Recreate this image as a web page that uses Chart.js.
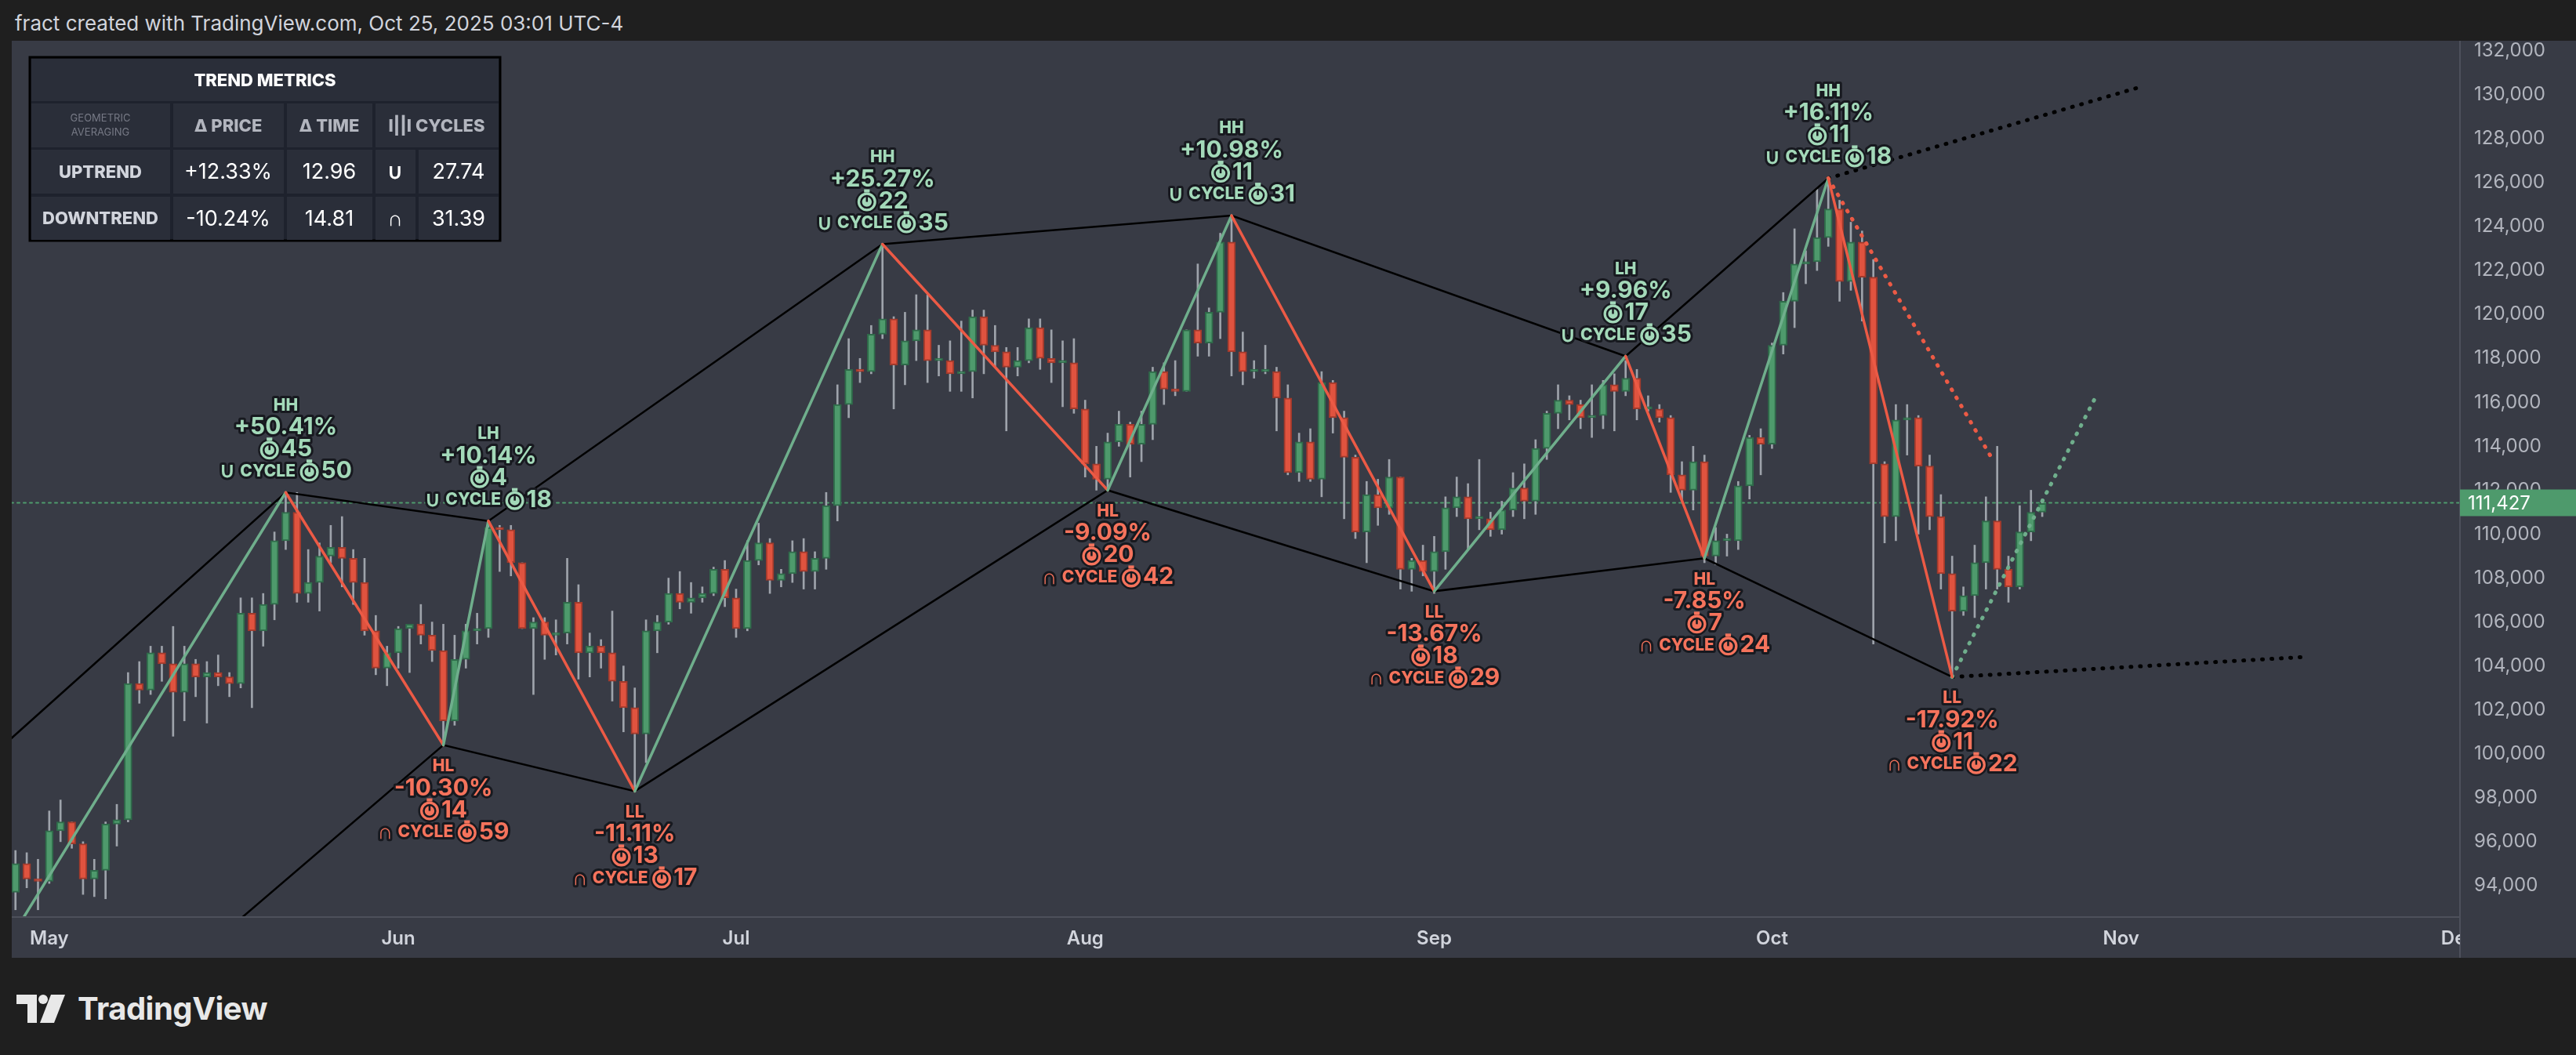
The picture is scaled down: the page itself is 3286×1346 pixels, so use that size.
<!DOCTYPE html>
<html>
<head>
<meta charset="utf-8">
<script src="https://cdn.jsdelivr.net/npm/chart.js@4.4.1/dist/chart.umd.min.js"></script>
<style>
  html, body { margin: 0; padding: 0; background: #1f1f1f; width: 3286px; height: 1346px; overflow: hidden; font-family: Inter, "Noto Sans", sans-serif; }
  #head { position: absolute; left: 19px; top: 14px; color: #d1d4dc; font-size: 26px; }
  #wrap { position: absolute; left: 0; top: 52px; width: 3286px; height: 1170px; }
  #foot { position: absolute; left: 21px; top: 1262px; display: flex; align-items: center; color: #e8e8e8; font-size: 40px; font-weight: 700; letter-spacing: -0.5px; }
  #foot svg { margin-right: 14px; }
</style>
</head>
<body>
<div id="head">fract created with TradingView.com, Oct 25, 2025 03:01 UTC-4</div>
<div id="wrap"><canvas id="chart" width="3286" height="1170"></canvas></div>
<div id="foot">
  <svg width="64" height="36" viewBox="0 0 64 36"><path d="M0 0h26v36h-12V12H0z" fill="#e8e8e8"/><circle cx="34" cy="6" r="6" fill="#e8e8e8"/><path d="M44 0h18L48 36H30z" fill="#e8e8e8"/></svg>
  <span>TradingView</span>
</div>
<script>
// daily BTCUSD candles, values in thousands, Apr 28 -> Oct 25 (day 0 = May 1)
const startDay = -3;
const firstOpen = 93.7;
const closes = [
  95.0, 94.3, 94.2,
  96.5, 96.9, 95.9, 94.3, 94.7, 96.8, 97.0, 103.2, 102.9, 104.6,
  104.1, 102.8, 104.1, 103.5, 103.7, 103.5, 103.2, 106.4, 105.6, 106.8,
  109.7, 111.0, 107.3, 107.8, 109.0, 109.4, 108.9, 107.8, 105.6, 103.9, 104.6,
  105.7, 105.9, 105.4, 104.7, 101.5, 104.3, 105.6, 105.7, 110.3, 110.2,
  108.7, 105.7, 106.0, 105.4, 105.5, 106.9, 104.6, 104.9, 104.6, 103.3,
  102.1, 100.9, 105.6, 106.0, 107.3, 106.9, 107.1, 107.3, 108.4, 107.1,
  105.7, 108.8, 109.6, 107.9, 108.2, 109.2, 108.3, 108.9, 111.3, 115.9,
  117.5, 117.4, 119.1, 119.8, 117.7, 118.8, 119.3, 117.9, 117.9, 117.3,
  117.4, 119.9, 118.6, 118.3, 117.6, 117.9, 119.4, 118.0, 117.8, 117.8, 115.7,
  113.2, 112.5, 114.2, 115.0, 114.1, 115.0, 117.4, 116.6, 116.5, 119.3,
  118.7, 120.1, 123.3, 118.3, 117.4, 117.4, 117.4, 116.2, 112.8, 114.2,
  112.5, 116.9, 115.3, 113.5, 110.1, 111.8, 111.2, 112.6, 108.4, 108.8, 108.3,
  109.2, 111.2, 111.7, 110.7, 110.7, 110.2, 111.1, 112.1, 111.5, 113.9,
  115.5, 116.1, 115.9, 115.3, 115.4, 116.8, 116.5, 117.1, 115.7, 115.7,
  115.3, 112.7, 112.0, 113.3, 109.0, 109.7, 109.7, 112.2, 114.4, 114.1,
  118.6, 120.6, 122.3, 122.4, 123.5, 124.8, 121.5, 123.3, 121.7, 113.2,
  110.8, 115.2, 115.3, 113.1, 110.8, 108.2, 106.5, 107.2, 108.7, 110.6,
  108.4, 107.6, 110.1, 111.0, 111.4
];
const highs = [
  95.6, 95.5, 95.2,
  97.4, 97.9, 96.9, 96.0, 95.2, 96.9, 97.7, 103.7, 104.2, 104.9,
  104.9, 105.8, 104.9, 104.3, 104.2, 104.5, 103.7, 107.1, 107.1, 107.3,
  110.1, 111.9, 111.9, 109.3, 109.6, 110.4, 110.8, 109.3, 108.9, 106.3, 104.9,
  105.8, 105.9, 106.8, 106.0, 105.9, 105.4, 105.9, 106.4, 110.6, 110.4,
  110.4, 108.5, 106.2, 106.2, 106.1, 108.9, 107.7, 105.5, 105.2, 106.5,
  104.0, 103.0, 106.1, 106.3, 108.0, 108.3, 107.8, 107.6, 108.5, 108.8,
  107.5, 109.7, 110.5, 109.8, 108.4, 109.7, 109.8, 109.2, 111.9, 116.8,
  118.9, 118.0, 119.5, 123.2, 119.9, 120.1, 120.9, 120.9, 118.6, 118.8,
  119.7, 120.2, 120.2, 119.5, 118.5, 118.5, 119.8, 119.8, 119.3, 118.8, 118.9,
  116.1, 114.0, 114.6, 115.6, 115.1, 115.6, 117.6, 117.8, 117.9, 119.3,
  122.3, 120.3, 123.7, 124.5, 119.2, 117.9, 118.6, 117.6, 116.8, 114.6,
  114.8, 117.4, 117.0, 115.6, 113.6, 112.4, 112.5, 113.4, 112.6, 108.9, 109.5,
  109.9, 111.7, 112.6, 112.3, 113.4, 111.0, 111.5, 112.8, 113.2, 114.3,
  115.6, 116.8, 116.3, 116.1, 116.8, 117.0, 117.3, 117.9, 117.5, 116.3,
  115.9, 115.4, 113.3, 114.0, 113.6, 110.3, 110.0, 112.4, 114.5, 114.8,
  118.7, 121.0, 123.9, 122.9, 125.7, 126.2, 125.2, 124.2, 123.8, 122.5,
  113.3, 115.9, 115.9, 115.4, 113.6, 111.8, 109.0, 107.6, 109.5, 111.7,
  114.0, 109.0, 111.3, 112.0, 111.6
];
const lows = [
  92.9, 93.9, 92.9,
  94.1, 96.0, 95.7, 93.6, 93.5, 93.4, 95.8, 96.9, 102.3, 102.7,
  103.3, 100.8, 101.5, 102.6, 101.4, 103.1, 102.6, 103.0, 102.1, 104.9,
  106.1, 109.3, 106.9, 106.9, 106.5, 108.7, 107.6, 106.8, 105.4, 103.6, 103.1,
  103.9, 103.7, 105.0, 104.2, 100.4, 101.3, 103.9, 105.0, 105.3, 108.3,
  108.1, 105.7, 102.7, 104.3, 104.5, 105.0, 103.4, 103.5, 103.9, 102.4,
  101.0, 98.3, 99.6, 104.6, 105.9, 106.6, 106.4, 106.9, 107.2, 106.7,
  105.3, 105.6, 108.6, 107.3, 107.6, 107.8, 107.5, 107.5, 108.4, 110.6,
  115.3, 116.9, 117.3, 118.9, 115.7, 116.8, 117.9, 116.9, 117.2, 116.5,
  116.5, 116.2, 117.3, 117.6, 114.7, 117.2, 117.8, 117.5, 116.9, 115.8, 115.5,
  112.6, 112.0, 112.1, 114.0, 112.6, 113.3, 114.3, 115.9, 116.3, 116.5,
  118.1, 118.1, 118.9, 117.2, 116.8, 117.1, 117.3, 114.7, 112.7, 112.4,
  112.4, 111.7, 114.6, 110.7, 109.8, 108.7, 110.4, 110.9, 107.5, 107.4, 108.1,
  107.3, 108.4, 110.8, 109.3, 110.2, 109.9, 110.0, 110.8, 110.7, 110.9,
  113.4, 114.8, 115.2, 114.8, 114.4, 114.8, 114.7, 116.3, 115.2, 115.6,
  115.1, 111.9, 111.5, 111.1, 108.7, 108.6, 109.0, 109.3, 111.6, 112.7,
  113.9, 118.2, 119.4, 121.4, 122.0, 123.1, 120.6, 121.1, 119.7, 105.0,
  109.6, 109.7, 113.6, 110.0, 110.2, 107.5, 103.5, 106.3, 106.2, 107.5,
  107.5, 106.9, 107.5, 109.7, 110.8
];
const lastPrice = 111.427;
const opens = [firstOpen, ...closes.slice(0, -1)];

// zigzag pivots (day, price)
const pivotDays   = [-24, 21, 35, 39, 52, 74, 94, 105, 123, 140, 147, 158, 169];
const pivotPrices = [74.5, 111.9, 100.4, 110.6, 98.3, 123.2, 112.0, 124.5, 107.4, 118.1, 108.9, 126.2, 103.5];
const highLineDays   = [-38, 21, 39, 74, 105, 140, 158];
const highLinePrices = [84.8, 111.9, 110.6, 123.2, 124.5, 118.1, 126.2];
const lowLineDays    = [-24, 35, 52, 94, 123, 147, 169];
const lowLinePrices  = [74.5, 100.4, 98.3, 112.0, 107.4, 108.9, 103.5];
const highExtDays = [158, 186],  highExtPrices = [126.2, 130.4];
const lowExtDays  = [169, 200],  lowExtPrices  = [103.5, 104.4];
const downProjDays = [158, 172.7], downProjPrices = [126.2, 113.3];
const upProjDays   = [169, 181.7], upProjPrices   = [103.5, 116.2];

// pivot labels
const labelTypes  = ['HH','HL','LH','LL','HH','HL','HH','LL','LH','HL','HH','LL'];
const labelPcts   = ['+50.41%','-10.30%','+10.14%','-11.11%','+25.27%','-9.09%','+10.98%','-13.67%','+9.96%','-7.85%','+16.11%','-17.92%'];
const labelBars   = [45, 14, 4, 13, 22, 20, 11, 18, 17, 7, 11, 11];
const labelCycles = [50, 59, 18, 17, 35, 42, 31, 29, 35, 24, 18, 22];

// axes
const monthDays  = [0, 31, 61, 92, 123, 153, 184, 214];
const monthNames = ['May', 'Jun', 'Jul', 'Aug', 'Sep', 'Oct', 'Nov', 'Dec'];
const priceTicks = [94, 96, 98, 100, 102, 104, 106, 108, 110, 112, 114, 116, 118, 120, 122, 124, 126, 128, 130, 132];

// trend metrics table
const metricRows = ['UPTREND', 'DOWNTREND'];
const metricPrice = ['+12.33%', '-10.24%'];
const metricTime = ['12.96', '14.81'];
const metricSym = ['\u222A', '\u2229'];
const metricCycles = ['27.74', '31.39'];

const GREEN = '#4e9a6c', GREEN_D = '#2f6b4a', RED = '#e0533f', RED_D = '#a23a2c';
const ZZ_GREEN = '#6fae8c', ZZ_RED = '#ec5a45';
const TXT_GREEN = '#a3d9b9', TXT_RED = '#f5735c';
const FONT = 'Inter, "Noto Sans", sans-serif';

const pts = (xs, ys) => xs.map((x, i) => ({ x: x, y: ys[i] }));
const lineSet = (data, color, width, dash, order) => ({
  type: 'line', data: data, borderColor: color, borderWidth: width, borderDash: dash || [],
  pointRadius: 0, fill: false, tension: 0, order: order, borderCapStyle: 'round'
});

const bodies = closes.map((c, i) => ({ x: startDay + i, y: [opens[i], c] }));
const wicks = closes.map((c, i) => ({ x: startDay + i, y: [Math.min(lows[i], opens[i], c), Math.max(highs[i], opens[i], c)] }));
const isUp = c => c.raw && c.raw.y[1] >= c.raw.y[0];

function watch(ctx, cx, cy, r, color) {
  ctx.save();
  ctx.lineWidth = 5; ctx.strokeStyle = '#17191f';
  ctx.beginPath(); ctx.arc(cx, cy, r, 0, Math.PI * 2); ctx.stroke();
  ctx.fillStyle = color;
  ctx.beginPath(); ctx.arc(cx, cy, r, 0, Math.PI * 2); ctx.fill();
  ctx.fillRect(cx - r * 0.3, cy - r - 4, r * 0.6, 4);
  ctx.strokeStyle = '#17191f'; ctx.lineWidth = 2.5;
  ctx.beginPath(); ctx.arc(cx, cy, r * 0.62, 0, Math.PI * 2); ctx.stroke();
  ctx.beginPath(); ctx.moveTo(cx, cy); ctx.lineTo(cx, cy - r * 0.6); ctx.stroke();
  ctx.restore();
}

function richLine(ctx, x, y, parts, color) {
  let total = 0;
  parts.forEach(p => {
    if (p.icon) p.w = p.r * 2 + 4;
    else { ctx.font = p.f; p.w = ctx.measureText(p.t).width; }
    total += p.w;
  });
  let cx = x - total / 2;
  ctx.textBaseline = 'middle'; ctx.textAlign = 'left';
  parts.forEach(p => {
    if (p.icon) watch(ctx, cx + p.r + 1, y + 1, p.r, color);
    else {
      ctx.font = p.f;
      ctx.lineJoin = 'round'; ctx.lineWidth = 6; ctx.strokeStyle = '#17191f';
      ctx.strokeText(p.t, cx, y); ctx.fillStyle = color; ctx.fillText(p.t, cx, y);
    }
    cx += p.w;
  });
}

const overlay = {
  id: 'overlay',
  beforeDraw(chart) {
    const c = chart.ctx;
    c.save(); c.fillStyle = '#383b45'; c.fillRect(0, 0, chart.width, chart.height); c.restore();
  },
  afterDraw(chart) {
    const c = chart.ctx, xs = chart.scales.x, ys = chart.scales.y, a = chart.chartArea;
    c.save();
    // left strip and axis borders
    c.fillStyle = '#1f1f1f'; c.fillRect(0, 0, a.left, chart.height);
    c.strokeStyle = '#4d505b'; c.lineWidth = 2;
    c.beginPath(); c.moveTo(a.right, 0); c.lineTo(a.right, chart.height); c.stroke();
    c.beginPath(); c.moveTo(a.left, a.bottom); c.lineTo(a.right, a.bottom); c.stroke();

    // price labels on the right scale
    c.fillStyle = '#b2b5be'; c.font = '24px ' + FONT; c.textAlign = 'left'; c.textBaseline = 'middle';
    priceTicks.forEach(v => c.fillText(Math.round(v * 1000).toLocaleString('en-US'), a.right + 18, ys.getPixelForValue(v)));

    // month labels
    c.save();
    c.beginPath(); c.rect(a.left, a.bottom, a.right - a.left, 60); c.clip();
    c.fillStyle = '#d1d4dc'; c.font = '600 24px ' + FONT; c.textAlign = 'center'; c.textBaseline = 'middle';
    monthDays.forEach((d, i) => c.fillText(monthNames[i], xs.getPixelForValue(d), a.bottom + 28));
    c.restore();

    // pivot labels
    c.save();
    c.beginPath(); c.rect(a.left, a.top, a.right - a.left, a.bottom - a.top); c.clip();
    labelTypes.forEach((t, i) => {
      const px = xs.getPixelForValue(pivotDays[i + 1]);
      const py = ys.getPixelForValue(pivotPrices[i + 1]);
      const high = t[1] === 'H';
      const col = high ? TXT_GREEN : TXT_RED;
      const lines = [
        [{ t: t, f: '800 21px ' + FONT }],
        [{ t: labelPcts[i], f: '700 30px ' + FONT }],
        [{ icon: true, r: 12 }, { t: String(labelBars[i]), f: '700 30px ' + FONT }],
        [{ t: (high ? '\u222A' : '\u2229') + ' ', f: '700 27px ' + FONT }, { t: 'CYCLE ', f: '800 21px ' + FONT },
         { icon: true, r: 12 }, { t: String(labelCycles[i]), f: '700 30px ' + FONT }]
      ];
      lines.forEach((ln, k) => {
        const off = high ? -(27 + (3 - k) * 28) : (27 + k * 28);
        richLine(c, px, py + off, ln, col);
      });
    });
    c.restore();

    // last price tag
    const ly = ys.getPixelForValue(lastPrice);
    c.fillStyle = '#4e9a6c'; c.fillRect(a.right, ly - 17, chart.width - a.right, 34);
    c.fillStyle = '#ffffff'; c.font = '24px ' + FONT; c.textAlign = 'left'; c.textBaseline = 'middle';
    c.fillText(Math.round(lastPrice * 1000).toLocaleString('en-US'), a.right + 10, ly + 1);

    // trend metrics table
    const L = 38, T = 21;
    c.fillStyle = '#1e222d'; c.fillRect(L, T, 600, 234);
    c.strokeStyle = '#000'; c.lineWidth = 3; c.strokeRect(L, T, 600, 234);
    const cell = (x1, y1, x2, y2) => { c.fillStyle = '#2a2e39'; c.fillRect(x1, y1, x2 - x1, y2 - y1); };
    const txt = (s, x, y, f, col) => { c.font = f; c.fillStyle = col; c.textAlign = 'center'; c.textBaseline = 'middle'; c.fillText(s, x, y); };
    cell(40, 23, 636, 77);
    txt('TREND METRICS', 338, 51, '800 22px ' + FONT, '#ffffff');
    const cols = [[40, 217], [221, 362], [366, 475], [479, 636]];
    cols.forEach(cc => cell(cc[0], 80, cc[1], 136));
    txt('GEOMETRIC', 128, 99, '13px ' + FONT, '#767985');
    txt('AVERAGING', 128, 117, '13px ' + FONT, '#767985');
    txt('\u0394 PRICE', 291, 109, '800 22px ' + FONT, '#b2b5be');
    txt('\u0394 TIME', 420, 109, '800 22px ' + FONT, '#b2b5be');
    txt('I||I CYCLES', 557, 109, '800 22px ' + FONT, '#b2b5be');
    [[139, 195], [199, 254]].forEach((r, k) => {
      const cy = (r[0] + r[1]) / 2 + 1;
      cell(40, r[0], 217, r[1]); cell(221, r[0], 362, r[1]); cell(366, r[0], 475, r[1]);
      cell(479, r[0], 530, r[1]); cell(534, r[0], 636, r[1]);
      txt(metricRows[k], 128, cy, '800 22px ' + FONT, '#d1d4dc');
      txt(metricPrice[k], 291, cy, '27px ' + FONT, '#ffffff');
      txt(metricTime[k], 420, cy, '27px ' + FONT, '#ffffff');
      txt(metricSym[k], 504, cy, '700 27px ' + FONT, '#ffffff');
      txt(metricCycles[k], 585, cy, '27px ' + FONT, '#ffffff');
    });
    c.restore();
  }
};

new Chart(document.getElementById('chart').getContext('2d'), {
  type: 'bar',
  data: {
    datasets: [
      lineSet(pts([-3.4, 214.2], [lastPrice, lastPrice]), '#4e9a6c', 2, [3, 5], 6),
      { label: 'wicks', data: wicks, backgroundColor: '#9ea3ab', barThickness: 2, grouped: false, order: 5 },
      { label: 'bodies', data: bodies, grouped: false, order: 4, barThickness: 10, minBarLength: 3,
        backgroundColor: c => isUp(c) ? GREEN : RED, borderColor: c => isUp(c) ? GREEN_D : RED_D,
        borderWidth: 2, borderSkipped: false },
      lineSet(pts(highLineDays, highLinePrices), '#000000', 2.5, null, 3),
      lineSet(pts(lowLineDays, lowLinePrices), '#000000', 2.5, null, 3),
      lineSet(pts(highExtDays, highExtPrices), '#000000', 5, [1, 11], 3),
      lineSet(pts(lowExtDays, lowExtPrices), '#000000', 5, [1, 11], 3),
      lineSet(pts(downProjDays, downProjPrices), ZZ_RED, 5, [1, 11], 2),
      lineSet(pts(upProjDays, upProjPrices), ZZ_GREEN, 5, [1, 11], 2),
      Object.assign(lineSet(pts(pivotDays, pivotPrices), ZZ_GREEN, 3.5, null, 1), {
        segment: { borderColor: s => s.p1.parsed.y > s.p0.parsed.y ? ZZ_GREEN : ZZ_RED }
      })
    ]
  },
  options: {
    responsive: false,
    animation: false,
    devicePixelRatio: 1,
    layout: { padding: { left: 15, bottom: 52, top: 0, right: 0 } },
    scales: {
      x: { type: 'linear', display: false, offset: false, bounds: 'ticks', min: -3.33, max: 214.1 },
      y: {
        type: 'linear', position: 'right', min: 92.57, max: 132.46,
        grid: { display: false }, border: { display: false },
        afterBuildTicks: s => { s.ticks = priceTicks.map(v => ({ value: v })); },
        afterFit: s => { s.width = 148; s.paddingTop = 0; s.paddingBottom = 0; },
        ticks: { display: false }
      }
    },
    plugins: { legend: { display: false }, tooltip: { enabled: false } }
  },
  plugins: [overlay]
});
</script>
</body>
</html>
